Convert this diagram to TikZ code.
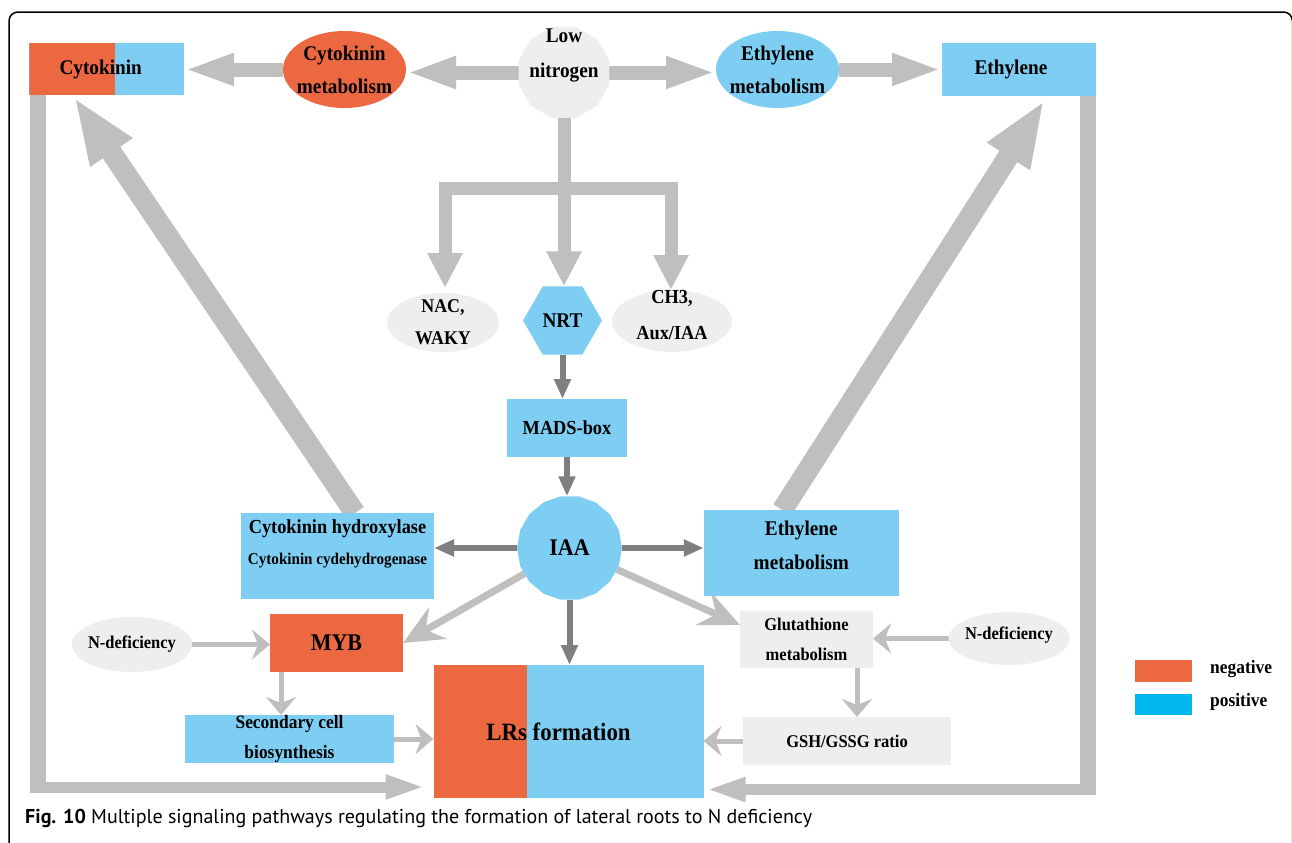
\documentclass[tikz,border=0pt]{standalone}
\usepackage{fontspec}
\newfontfamily\tnr[FakeStretch=0.92]{Liberation Serif}
\newfontfamily\capsans{PT Sans}
\usetikzlibrary{arrows.meta,shapes.geometric,calc}
\pgfdeclarelayer{bg}
\pgfsetlayers{bg,main}
\definecolor{orng}{RGB}{236,104,65}
\definecolor{lblue}{RGB}{126,206,244}
\definecolor{pblue}{RGB}{0,183,238}
\definecolor{lgrey}{RGB}{238,238,238}
\definecolor{agrey}{RGB}{191,191,191}
\definecolor{dgrey}{RGB}{127,127,127}
\newcommand\mysize[2]{\fontsize{#1}{#2}\selectfont}
\tikzset{
  ft/.style 2 args={font=\tnr\bfseries\mysize{#1}{#2}},
  txt/.style={align=center, inner sep=0pt, text=black},
  rbox/.style={rectangle, inner sep=0pt, outer sep=0pt},
  ell/.style={ellipse, inner sep=0pt, outer sep=0pt},
  fat/.style={draw=agrey, line width=14bp, -{Triangle[width=29bp,length=50bp]}},
  tree/.style={draw=agrey, line width=13bp},
  treearr/.style={tree, -{Triangle[width=33bp,length=35bp]}},
  hugearr/.style={draw=agrey, line width=21bp, -{Triangle[width=46bp,length=67bp]}},
  dark/.style={draw=dgrey, line width=6bp, -{Triangle[width=16bp,length=20bp]}},
  light/.style={draw=agrey, line width=5bp, -{Stealth[width=30bp,length=18bp,inset=6bp]}},
  lightbig/.style={draw=agrey, line width=7bp, -{Stealth[width=36bp,length=40bp,inset=14bp]}},
  fbv/.style={draw=agrey, line width=16bp},
  fbh/.style={draw=agrey, line width=11bp, -{Triangle[width=22bp,length=40bp]}},
}
\begin{document}
\begin{tikzpicture}[x=1bp,y=-1bp]
\useasboundingbox (0,0) rectangle (1292,843);
\clip (0,0) rectangle (1292,843);
\draw[line width=1.5bp, rounded corners=9bp] (9,900) -- (9,12) -- (1292.5,12) -- (1292.5,900);

% top row
\node[rbox, fill=lblue, minimum width=154.5bp, minimum height=52bp,
  path picture={\fill[orng] (path picture bounding box.south west) rectangle ([xshift=85bp]path picture bounding box.north west);},
  txt, ft={21}{33}] (cyt) at (106.75,69) {Cytokinin\kern12bp};
\node[ell, fill=orng, minimum width=123bp, minimum height=77bp] (cm) at (344.5,69.5) {};
\node[txt, ft={21}{33}] (cmt) at (cm.center) {Cytokinin\\metabolism};
\node[regular polygon, regular polygon sides=12, minimum size=94bp, inner sep=0pt, outer sep=0pt, fill=lgrey] (ln) at (564,72.5) {};
\node[txt, ft={21}{36}, yshift=17bp] (lnt) at (ln.center) {Low\\nitrogen};
\node[ell, fill=lblue, minimum width=123bp, minimum height=77bp] (em) at (777.5,69.5) {};
\node[txt, ft={21}{33}] (emt) at (em.center) {Ethylene\\metabolism};
\node[rbox, fill=lblue, minimum width=154bp, minimum height=53bp, txt, ft={21}{33}] (eth) at (1019,69.5) {Ethylene\kern16bp};

% second row
\node[ell, fill=lgrey, minimum width=112bp, minimum height=59bp] (nac) at (443,322.5) {};
\node[txt, ft={19.5}{32}] (nact) at (nac.center) {NAC,\\WAKY};
\node[regular polygon, regular polygon sides=6, minimum size=79bp, inner sep=0pt, outer sep=0pt, fill=lblue] (nrt) at (562.5,320.5) {};
\node[txt, ft={21}{30}] (nrtt) at (nrt.center) {NRT};
\node[ell, fill=lgrey, minimum width=120bp, minimum height=62bp] (ch3) at (672,321) {};
\node[txt, ft={20}{36}, yshift=6bp] (ch3t) at (ch3.center) {CH3,\\Aux/IAA};

\node[rbox, fill=lblue, minimum width=120bp, minimum height=58bp, txt, ft={20}{30}] (mads) at (567,428) {MADS-box};
\node[regular polygon, regular polygon sides=18, minimum size=105bp, inner sep=0pt, outer sep=0pt, fill=lblue] (iaa) at (569.5,548) {};
\node[txt, ft={24}{30}] (iaat) at (iaa.center) {IAA};

\node[rbox, fill=lblue, minimum width=193bp, minimum height=86bp] (cyh) at (337.5,556) {};
\node[txt, ft={20}{31}, yshift=12.5bp] (cyht) at (cyh.center) {Cytokinin hydroxylase\\{\mysize{16.5}{20}Cytokinin cydehydrogenase}};
\node[rbox, fill=lblue, minimum width=195bp, minimum height=86bp] (emb) at (801.3,553) {};
\node[txt, ft={21}{34}, yshift=8bp] (embt) at (emb.center) {Ethylene\\metabolism};

% lower part
\node[ell, fill=lgrey, minimum width=120bp, minimum height=55bp] (ndl) at (132,644.5) {};
\node[txt, ft={18}{24}] (ndlt) at (ndl.center) {N-deficiency};
\node[rbox, fill=orng, minimum width=133bp, minimum height=58bp, txt, ft={24}{30}] (myb) at (336.5,643) {MYB};
\node[rbox, fill=lblue, minimum width=209bp, minimum height=48bp] (sec) at (289.5,739) {};
\node[txt, ft={19}{31}] (sect) at (sec.center) {Secondary cell\\biosynthesis};
\node[rbox, fill=lblue, minimum width=270bp, minimum height=133bp,
  path picture={\fill[orng] (path picture bounding box.south west) rectangle ([xshift=93.5bp]path picture bounding box.north west);}] (lrs) at (568.5,731.5) {};
\node[txt, ft={25}{30}, xshift=-10bp] (lrst) at (lrs.center) {LRs formation};
\node[rbox, fill=lgrey, minimum width=133bp, minimum height=57bp, txt, ft={18}{30}] (glu) at (806.5,639) {Glutathione\\metabolism};
\node[ell, fill=lgrey, minimum width=121bp, minimum height=53bp] (ndr) at (1009,638.5) {};
\node[txt, ft={18}{24}, yshift=3bp] (ndrt) at (ndr.center) {N-deficiency};
\node[rbox, fill=lgrey, minimum width=208bp, minimum height=48bp, txt, ft={18}{24}] (gsh) at (847,741) {GSH/GSSG ratio};

% legend
\node[rbox, fill=orng, minimum width=57bp, minimum height=22bp] (neg) at (1163.5,671) {};
\node[rbox, fill=pblue, minimum width=57bp, minimum height=21bp] (pos) at (1163.5,704.5) {};
\node[txt, ft={19}{24}, anchor=west] (negt) at (1210,669) {negative};
\node[txt, ft={19}{24}, anchor=west] (post) at (1210,702) {positive};

% caption
\node[anchor=base west, inner sep=0pt, font=\capsans\mysize{20.1}{25}] (cap) at (25,823)
  {\textbf{Fig. 10} Multiple signaling pathways regulating the formation of lateral roots to N deficiency};

\begin{pgfonlayer}{bg}
\draw[fat] (cm.west) -- (cm.west -| cyt.east);
\draw[fat] (ln.west) -- (ln.west -| cm.east);
\draw[fat] (ln.east) -- (ln.east -| em.west);
\draw[fat] (em.east) -- (em.east -| eth.west);

\coordinate (bl) at (445,188);
\coordinate (br) at (671,188);
\draw[tree] (ln.south) -- (ln.south |- bl);
\draw[tree, line cap=rect] (bl) -- (br);
\draw[treearr, shorten >=5bp] (bl) -- (bl |- nac.north);
\draw[treearr] (ln.south |- bl) -- (ln.south |- nrt.north);
\draw[treearr] (br) -- (br |- ch3.north);

\draw[dark] (nrt.south) -- (nrt.south |- mads.north);
\draw[dark] (mads.south) -- (mads.south |- iaa.north);
\draw[dark] (iaa.west) -- (iaa.west -| cyh.east);
\draw[dark] (iaa.east) -- (iaa.east -| emb.west);
\draw[dark] (iaa.south) -- (iaa.south |- lrs.north);

\draw[hugearr] ($(cyh.north west)+(114,0)$) -- ($(cyt.south west)+(44.5,2)$);
\draw[hugearr] ($(emb.north west)+(78.5,0)$) -- ($(eth.south west)+(102.5,4)$);

\draw[fbv] ($(cyt.south west)+(8.5,0)$) -- ($(cyt.south west)+(8.5,697.5)$);
\coordinate (lcorner) at ($(cyt.south west)+(0.5,692)$);
\draw[fbh, shorten >=8bp] (lcorner) -- (lcorner -| lrs.west);
\draw[fbv] ($(eth.south east)+(-8,0)$) -- ($(eth.south east)+(-8,699)$);
\coordinate (rcorner) at ($(eth.south east)+(0,693.5)$);
\draw[fbh, shorten >=2bp] (rcorner) -- (rcorner -| lrs.east);

\draw[light] (ndl.east) -- (ndl.east -| myb.west);
\coordinate (ms) at ($(myb.south west)+(11,0)$);
\draw[light] (ms) -- (ms |- sec.north);
\draw[light] (sec.east) -- (sec.east -| lrs.west);
\draw[light] (ndr.west) -- (ndr.west -| glu.east);
\coordinate (gs) at ($(glu.south east)+(-16,0)$);
\draw[light] (gs) -- (gs |- gsh.north);
\draw[light] (gsh.west) -- (gsh.west -| lrs.east);
\draw[lightbig] (iaa) -- (myb.east);
\draw[lightbig] (iaa) -- ($(glu.west)+(0,-14)$);
\end{pgfonlayer}
\end{tikzpicture}
\end{document}
